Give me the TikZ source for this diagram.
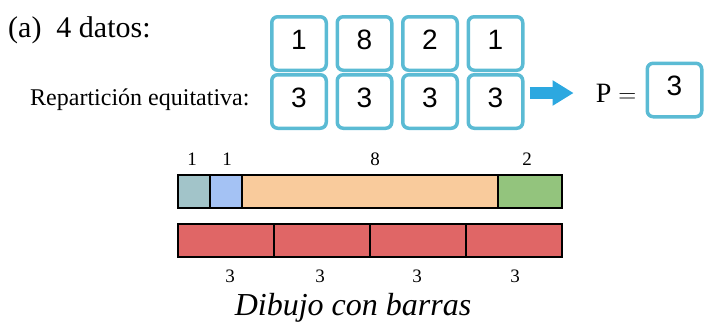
\documentclass[tikz,border=0pt]{standalone}
\usepackage{fontspec}
\setmainfont{Liberation Serif}
\newfontfamily\boxfont{Liberation Sans}
\usetikzlibrary{arrows.meta, positioning, calc}
\definecolor{databorder}{RGB}{91, 187, 212}
\definecolor{dataarrow}{RGB}{44, 168, 224}
\definecolor{barteal}{RGB}{162, 196, 201}
\definecolor{barblue}{RGB}{164, 194, 244}
\definecolor{barorange}{RGB}{249, 203, 156}
\definecolor{bargreen}{RGB}{147, 196, 125}
\definecolor{barred}{RGB}{224, 102, 102}

\begin{document}
\begin{tikzpicture}[
    x=1pt, y=-1pt,
    databox/.style={draw=databorder, line width=3.5pt, rounded corners=6pt, fill=white,
        minimum width=54.5pt, minimum height=53.5pt, inner sep=0pt, text depth=8pt,
        font=\boxfont\fontsize{28}{30}\selectfont},
    barseg/.style={draw=black, line width=1.4pt},
    barlabel/.style={anchor=base, font=\fontsize{19}{21}\selectfont},
    datarrow/.style={-{Triangle[length=21pt, width=24pt]}, line width=12pt, dataarrow}
]
    \useasboundingbox (0,0) rectangle (704,327);

    % Titles
    \node[anchor=base west, inner sep=0pt, font=\fontsize{30}{32}\selectfont] (title) at (8,37) {(a)\ \ 4 datos:};
    \node[anchor=base west, inner sep=0pt, font=\fontsize{24}{28}\selectfont] (rep) at (30,105) {Repartición equitativa:};

    % Data values (first row) and equal share (second row)
    \node[databox] (d1) at (299,43.5) {1};
    \node[databox] (d2) at (364.5,43.5) {8};
    \node[databox] (d3) at (430,43.5) {2};
    \node[databox] (d4) at (495.5,43.5) {1};
    \node[databox] (r1) at (299,101.5) {3};
    \node[databox] (r2) at (364.5,101.5) {3};
    \node[databox] (r3) at (430,101.5) {3};
    \node[databox] (r4) at (495.5,101.5) {3};

    % Result
    \node[inner sep=0pt, font=\fontsize{28}{30}\selectfont] (peq) at (616,93) {$\mathrm{P} =$};
    \node[databox] (pval) at (674.5,90) {3};
    \draw[datarrow, shorten <=5pt, shorten >=22pt] (r4.east |- peq.west) -- (peq.west);

    % Bars with the data
    \draw[barseg, fill=barteal] (178,175) rectangle (210,208);
    \draw[barseg, fill=barblue] (210,175) rectangle (242,208);
    \draw[barseg, fill=barorange] (242,175) rectangle (498,208);
    \draw[barseg, fill=bargreen] (498,175) rectangle (562,208);
    \node[barlabel] (l1) at (192,165) {1};
    \node[barlabel] (l2) at (227,165) {1};
    \node[barlabel] (l3) at (375,165) {8};
    \node[barlabel] (l4) at (527,165) {2};

    % Bars with the equal share
    \draw[barseg, fill=barred] (178,224) rectangle (274,257);
    \draw[barseg, fill=barred] (274,224) rectangle (370,257);
    \draw[barseg, fill=barred] (370,224) rectangle (466,257);
    \draw[barseg, fill=barred] (466,224) rectangle (562,257);
    \node[barlabel] (s1) at (230,282) {3};
    \node[barlabel] (s2) at (320,282) {3};
    \node[barlabel] (s3) at (417,282) {3};
    \node[barlabel] (s4) at (515,282) {3};

    \node[anchor=base, inner sep=0pt, font=\itshape\fontsize{32}{34}\selectfont] (caption) at (353,315) {Dibujo con barras};
\end{tikzpicture}
\end{document}
